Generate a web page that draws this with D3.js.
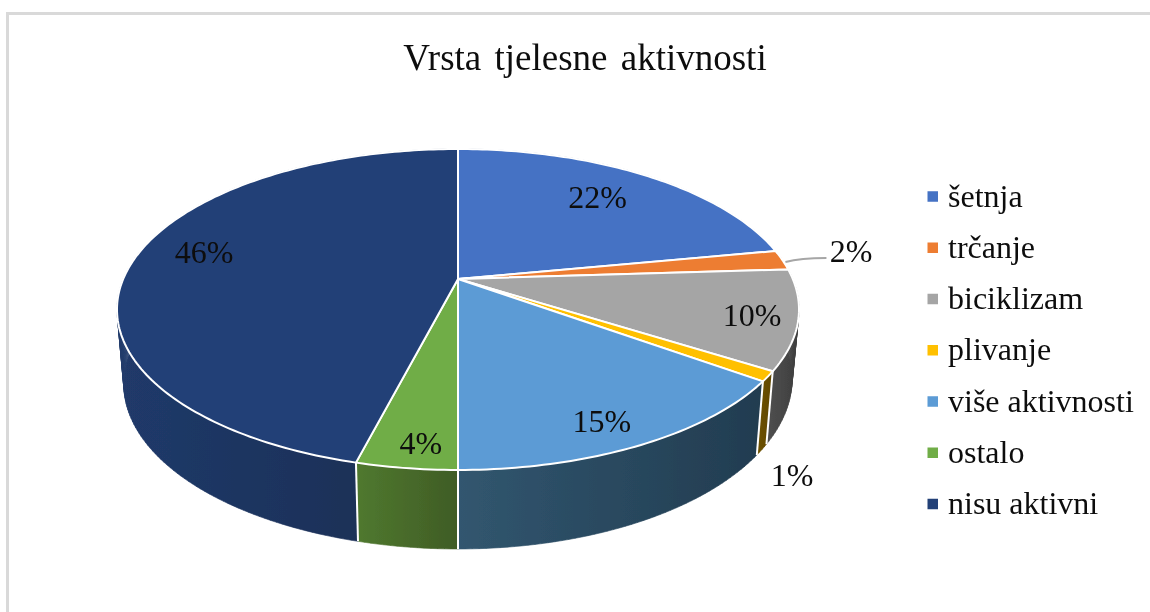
<!DOCTYPE html>
<html><head><meta charset="utf-8">
<script src="https://cdn.jsdelivr.net/npm/d3@7"></script>
<style>html,body{margin:0;padding:0;background:#fff;overflow:hidden}svg{display:block}text{font-family:"Liberation Serif",serif;fill:#0d0d0d}</style>
</head><body><svg id="c" width="1150" height="612"></svg>
<script>
const titleText = "Vrsta tjelesne aktivnosti";
const categories = ["šetnja","trčanje","biciklizam","plivanje","više aktivnosti","ostalo","nisu aktivni"];
const values = [22,2,10,1,15,4,46];
const topColors = ["#4472C4","#ED7D31","#A5A5A5","#FFC000","#5B9BD5","#70AD47","#234077"];
const sideLeft = ["#2a4577","#8f4a1c","#505050","#6e5200","#31566f","#50792f","#203a6a"];
const sideRight = ["#2a4577","#8f4a1c","#3d3d3d","#5f4700","#223c50","#3f5c25","#1a2c50"];
// layout of the labels: radius factor and angular shift (degrees) relative to slice middle
const labelRadius = [0.75,1.23,0.87,1.30,0.863,0.887,0.805];
const labelTurn = [-1.4,-1.5,0.5,17.6,1.9,-1.2,5.8];

const defs0 = d3.select("#c").append("defs");
defs0.append("filter").attr("id","soft").attr("filterUnits","userSpaceOnUse")
  .attr("x",0).attr("y",0).attr("width",1150).attr("height",612)
  .append("feGaussianBlur").attr("stdDeviation",0.45);
const svg = d3.select("#c").append("g").attr("filter","url(#soft)");
svg.append("rect").attr("width",1150).attr("height",612).attr("fill","#fff");

const cx=458, cy=279, A=154.7, B=334.8, k=0.19;
function proj(theta,r=1){const x=r*Math.sin(theta), z=r*Math.cos(theta), w=1+k*z;
  return [cx+B*x/w, cy-A*z/w];}
function projLow(theta){const [X,Y]=proj(theta);
  const c=0.045+0.019*Math.sin(theta);
  return [cx+0.98*(X-cx), Y+79-c*(470-Y)];}

// frame
svg.append("path").attr("d","M7.5,612V13.5H1150").attr("fill","none").attr("stroke","#d9d9d9").attr("stroke-width",3);

const arcs = d3.pie().sort(null).value(d=>d).startAngle(0).endAngle(2*Math.PI)(values);
const line = d3.line();
const step = Math.PI/180;
function samples(a0,a1){const n=Math.max(2,Math.ceil((a1-a0)/step));return d3.range(n+1).map(i=>a0+(a1-a0)*i/n);}

const defs = svg.append("defs");
// sides, built from small quads so that the silhouette between both rims is filled
arcs.forEach((d,i)=>{
  const t=samples(d.startAngle,d.endAngle);
  const up=t.map(a=>proj(a)), lo=t.map(a=>projLow(a));
  const xe=d3.extent(up.concat(lo),p=>p[0]);
  const g=defs.append("linearGradient").attr("id","s"+i).attr("gradientUnits","userSpaceOnUse")
    .attr("x1",xe[0]).attr("x2",xe[1]).attr("y1",0).attr("y2",0);
  g.append("stop").attr("offset",0).attr("stop-color",sideLeft[i]);
  g.append("stop").attr("offset",1).attr("stop-color",sideRight[i]);
  const path=d3.range(t.length-1).map(j=>line([up[j],up[j+1],lo[j+1],lo[j]])+"Z").join("");
  svg.append("path").attr("d",path).attr("fill",`url(#s${i})`).attr("stroke",`url(#s${i})`).attr("stroke-width",0.6);
});
arcs.forEach(d=>{
  svg.append("path").attr("d",line([proj(d.startAngle),projLow(d.startAngle)]))
    .attr("stroke","#fff").attr("stroke-width",2).attr("fill","none");
});
// top
arcs.forEach((d,i)=>{
  const pts=samples(d.startAngle,d.endAngle).map(a=>proj(a));
  svg.append("path").attr("d",line([[cx,cy],...pts])+"Z").attr("fill",topColors[i])
    .attr("stroke","#fff").attr("stroke-width",2).attr("stroke-linejoin","round");
});
// leader
const p2=proj((arcs[1].startAngle+arcs[1].endAngle)/2);
svg.append("path").attr("d",`M${p2[0]+3},${p2[1]+2}Q${p2[0]+18},${p2[1]-2} ${p2[0]+44},${p2[1]-2}`)
  .attr("fill","none").attr("stroke","#a6a6a6").attr("stroke-width",2);
// labels
arcs.forEach((d,i)=>{
  const p=proj((d.startAngle+d.endAngle)/2+labelTurn[i]*step,labelRadius[i]);
  svg.append("text").attr("x",p[0]).attr("y",p[1]).attr("text-anchor","middle").attr("dominant-baseline","central")
    .attr("font-size",32).text(values[i]+"%");
});
// title
svg.append("text").attr("x",585).attr("y",70).attr("text-anchor","middle").attr("font-size",37)
  .attr("word-spacing",4).text(titleText);
// legend
const ly=d3.scalePoint().domain(categories).range([196.5,504]);
categories.forEach((c,i)=>{
  svg.append("rect").attr("x",927.5).attr("y",ly(c)-5.25).attr("width",10.5).attr("height",10.5).attr("fill",topColors[i]);
  svg.append("text").attr("x",948).attr("y",ly(c)+10).attr("font-size",32).text(c);
});
</script></body></html>
